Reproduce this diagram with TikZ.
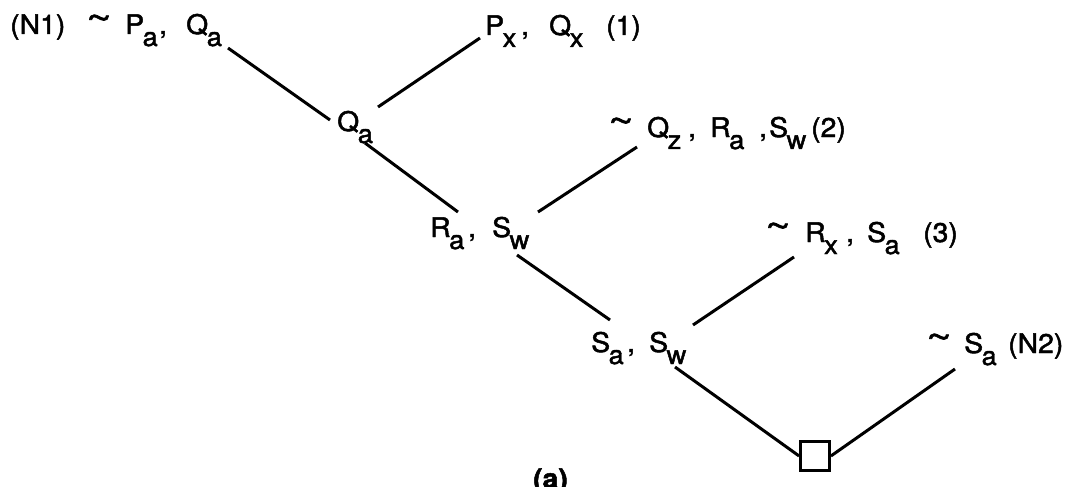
\documentclass[tikz,border=0pt]{standalone}
\usepackage{graphicx}
\usepackage{fontspec}
\setmainfont{TeX Gyre Heros}[FakeStretch=1.05,FakeBold=1.8]
\newcommand\sbs[1]{\raisebox{-12pt}{\fontsize{26}{26}\selectfont #1}}
\newcommand\ls[2]{#1\kern-1.5pt\sbs{#2}}
\newcommand\tokat[2]{\makebox[0pt][l]{\hspace*{#1pt}#2}}
\newcommand\tld{\raisebox{4pt}{\scalebox{1.55}[1.3]{\textasciitilde}}}
\begin{document}
\begin{tikzpicture}[x=1pt,y=-1pt,
  lbl/.style={anchor=base west,inner sep=0pt,font=\fontsize{27}{32}\selectfont},
  edge/.style={line width=3pt},
  leaf/.style={draw,line width=2.8pt,minimum size=29pt,inner sep=0pt}]
\useasboundingbox (0,0) rectangle (1072,487);
% labels
\node[lbl] (n1) at (10,34) {\tokat{0}{(N1)}\tokat{76}{\tld}\tokat{115}{\ls{P}{a}}\tokat{149}{,}\tokat{176}{\ls{Q}{a}}\hspace*{215pt}};
\node[lbl] (l1) at (485,35) {\tokat{0}{\ls{P}{x}}\tokat{36}{,}\tokat{64}{\ls{Q}{x}}\tokat{121}{(1)}\hspace*{156pt}};
\node[lbl] (qa) at (337,131) {\ls{Q}{a}};
\node[lbl] (l2) at (608,137) {\tokat{0}{\tld}\tokat{39}{\ls{Q}{z}}\tokat{80}{,}\tokat{102}{\ls{R}{a}}\tokat{151}{,}\tokat{161}{\ls{S}{w}}\tokat{203}{(2)}\hspace*{244pt}};
\node[lbl] (rs) at (430,237) {\tokat{0}{\ls{R}{a}}\tokat{38}{,}\tokat{62}{\ls{S}{w}}\hspace*{98pt}};
\node[lbl] (l3) at (765,242) {\tokat{0}{\tld}\tokat{40}{\ls{R}{x}}\tokat{81}{,}\tokat{102}{\ls{S}{a}}\tokat{158}{(3)}\hspace*{196pt}};
\node[lbl] (ss) at (591,352) {\tokat{0}{\ls{S}{a}}\tokat{36}{,}\tokat{58}{\ls{S}{w}}\hspace*{98pt}};
\node[lbl] (n2) at (926,353) {\tokat{0}{\tld}\tokat{38}{\ls{S}{a}}\tokat{82}{(N2)}\hspace*{140pt}};
\node[lbl,font=\fontsize{27}{30}\selectfont\bfseries] (cap) at (533,488) {(a)};
\node[leaf] (sq) at (815,456) {};
% connector end points
\coordinate (a1) at (228,48);  \coordinate (a2) at (330,120);
\coordinate (b1) at (378,107); \coordinate (b2) at (480,38);
\coordinate (c1) at (365,143); \coordinate (c2) at (458,212);
\coordinate (d1) at (538,212); \coordinate (d2) at (637,147);
\coordinate (f1) at (517,255); \coordinate (f2) at (610,320);
\coordinate (g1) at (693,325); \coordinate (g2) at (794,257);
\coordinate (h1) at (675,367);
\coordinate (k2) at (955,369);
% connectors
\draw[edge] (a1) -- (a2);
\draw[edge] (b1) -- (b2);
\draw[edge] (c1) -- (c2);
\draw[edge] (d1) -- (d2);
\draw[edge] (f1) -- (f2);
\draw[edge] (g1) -- (g2);
\draw[edge] (h1) -- (sq.west);
\draw[edge] (sq.east) -- (k2);
\end{tikzpicture}
\end{document}
